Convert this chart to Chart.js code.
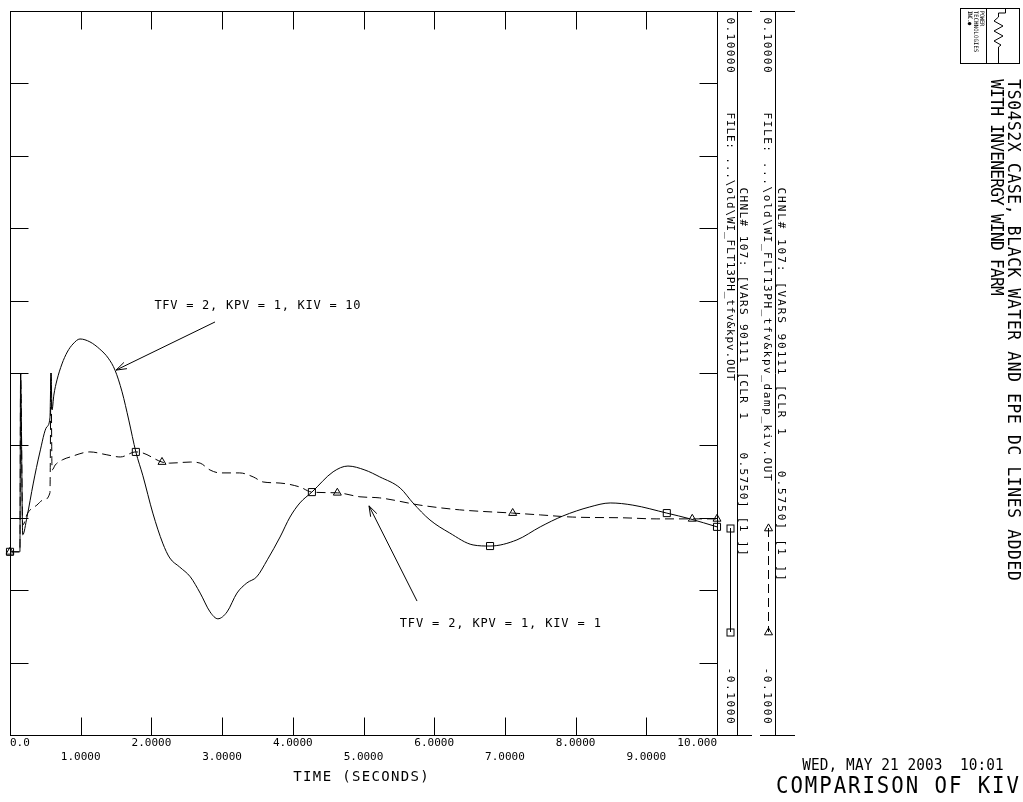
<!DOCTYPE html>
<html><head><meta charset="utf-8">
<script src="https://cdn.jsdelivr.net/npm/chart.js@4/dist/chart.umd.min.js"></script>
<style>html,body{margin:0;padding:0;background:#fff;overflow:hidden}</style>
</head><body>
<canvas id="c" width="1023" height="802" style="display:block;width:1023px;height:802px"></canvas>
<script>
// ---------- data ----------
const xTickValues = [0,1,2,3,4,5,6,7,8,9,10];
const xTickLabels = ['0.0','1.0000','2.0000','3.0000','4.0000','5.0000','6.0000','7.0000','8.0000','9.0000','10.000'];
const yTickValues = [-0.1,-0.08,-0.06,-0.04,-0.02,0,0.02,0.04,0.06,0.08,0.1];
const yRangeLabels = ['0.10000','-0.1000'];

// KIV = 10 (solid, squares) : ...\old\WI_FLT13PH_tfv&kpv.OUT
const solidT = [0,0.14,0.15,0.18,0.24,0.33,0.42,0.52,0.565,0.58,
  0.595,0.62,0.665,0.735,0.81,0.89,0.99,1.13,1.27,1.39,
  1.485,1.585,1.68,1.78,1.88,2.02,2.16,2.26,2.40,2.55,
  2.69,2.83,2.94,3.07,3.21,3.35,3.49,3.64,3.82,3.96,
  4.10,4.27,4.57,4.78,5.02,5.23,5.52,5.70,5.94,6.22,
  6.55,6.79,7.17,7.50,7.82,8.20,8.49,8.81,9.29,9.62,
  10.0];
const solidV = [-0.0494,-0.0494,0,-0.0447,-0.0398,-0.0304,-0.0221,-0.0149,-0.0124,0,
  -0.0102,-0.0061,-0.0019,0.0025,0.0058,0.0080,0.0094,0.0086,0.0066,0.0041,
  0.0008,-0.0052,-0.0130,-0.0218,-0.0284,-0.0387,-0.0470,-0.0511,-0.0536,-0.0563,
  -0.0608,-0.0660,-0.0679,-0.0660,-0.0608,-0.0580,-0.0563,-0.0516,-0.0453,-0.0398,
  -0.0359,-0.0329,-0.0273,-0.0257,-0.0268,-0.0287,-0.0318,-0.0359,-0.0406,-0.0442,
  -0.0475,-0.0478,-0.0461,-0.0425,-0.0395,-0.0370,-0.0359,-0.0365,-0.0387,-0.0403,
  -0.0425];
const solidMarkT = [0,1.78,4.27,6.79,9.29,10.0];

// KIV = 1 (dashed, triangles) : ...\old\WI_FLT13PH_tfv&kpv_damp_kiv.OUT
const dashT = [0,0.14,0.15,0.18,0.25,0.38,0.47,0.565,0.58,0.595,
  0.64,0.74,0.85,1.13,1.37,1.56,1.78,1.88,2.15,2.26,
  2.55,2.69,2.83,2.97,3.25,3.44,3.58,3.82,4.10,4.27,
  4.63,4.95,5.23,5.80,6.36,7.11,7.50,7.96,8.67,9.15,
  9.65,10.0];
const dashV = [-0.0494,-0.0494,0,-0.0420,-0.0387,-0.0365,-0.0351,-0.0331,0,-0.0268,
  -0.0254,-0.0240,-0.0232,-0.0218,-0.0226,-0.0232,-0.0218,-0.0221,-0.0246,-0.0249,
  -0.0246,-0.0249,-0.0268,-0.0276,-0.0276,-0.0287,-0.0301,-0.0304,-0.0315,-0.0329,
  -0.0331,-0.0342,-0.0345,-0.0365,-0.0378,-0.0387,-0.0392,-0.0398,-0.0400,-0.0403,
  -0.0403,-0.0403];
const dashMarkT = [0,2.15,4.63,7.11,9.65,10.0];

const seriesNames = ['TFV = 2, KPV = 1, KIV = 10','TFV = 2, KPV = 1, KIV = 1'];
const fileNames = ['FILE: ...\\old\\WI_FLT13PH_tfv&kpv.OUT','FILE: ...\\old\\WI_FLT13PH_tfv&kpv_damp_kiv.OUT'];
const channelLabel = 'CHNL# 107: [VARS 90111 [CLR_1    0.5750] [1 ]]';
const xTitle = 'TIME (SECONDS)';
const titleLines = ['TS04S2X CASE, BLACK WATER AND EPE DC LINES ADDED','WITH INVENERGY WIND FARM'];
const dateText = 'WED, MAY 21 2003  10:01';
const bottomTitle = 'COMPARISON OF KIV';

// ---------- helpers ----------
const FONT = '"DejaVu Sans Mono", "Liberation Mono", monospace';
// fixed-pitch plotter-like text: glyphs narrowed by sx, spread so visible text spans [a, b]
function mono(ctx, text, a, b, c, size, rot, sx) {
  sx = sx || 0.8;
  ctx.save();
  ctx.font = size + 'px ' + FONT;
  ctx.textBaseline = 'middle'; ctx.textAlign = 'center'; ctx.fillStyle = '#000';
  const gw = 0.6 * size * sx * 0.85;
  const n = text.length;
  const pitch = n > 1 ? (b - a - gw) / (n - 1) : 0;
  if (rot) { ctx.translate(c, a); ctx.rotate(Math.PI / 2); } else { ctx.translate(a, c); }
  for (let i = 0; i < n; i++) {
    const ch = text[i];
    if (ch === ' ') continue;
    ctx.save();
    ctx.translate(gw / 2 + i * pitch, 0);
    ctx.scale(sx, 1);
    ctx.fillText(ch, 0, 0);
    ctx.restore();
  }
  ctx.restore();
}
function seg(ctx, x1, y1, x2, y2) {
  ctx.beginPath(); ctx.moveTo(x1, y1); ctx.lineTo(x2, y2); ctx.stroke();
}
function square(ctx, x, y, s) { ctx.strokeRect(x - s / 2, y - s / 2, s, s); }
function triangle(ctx, x, y, s) {
  const h = s * 0.866;
  ctx.beginPath(); ctx.moveTo(x, y - h * 2 / 3); ctx.lineTo(x + s / 2, y + h / 3); ctx.lineTo(x - s / 2, y + h / 3); ctx.closePath(); ctx.stroke();
}
function arrow(ctx, x1, y1, x2, y2) {
  seg(ctx, x1, y1, x2, y2);
  const a = Math.atan2(y1 - y2, x1 - x2), L = 11, d = 0.32;
  ctx.beginPath();
  ctx.moveTo(x2 + L * Math.cos(a + d), y2 + L * Math.sin(a + d));
  ctx.lineTo(x2, y2);
  ctx.lineTo(x2 + L * Math.cos(a - d), y2 + L * Math.sin(a - d));
  ctx.stroke();
}

// annotations, in data units
const annotations = [
  {text: seriesNames[0], t0: 2.05, t1: 4.95, v: 0.0185, from: [2.90, 0.0141], to: [1.50, 0.0008]},
  {text: seriesNames[1], t0: 5.52, t1: 8.35, v: -0.0693, from: [5.757, -0.0630], to: [5.078, -0.0367]}
];

const isMark = (list) => (c) => (c.raw && list.includes(c.raw.x)) ? 1 : 0;

const decor = {
  id: 'decor',
  afterDraw(chart) {
    const ctx = chart.ctx, xs = chart.scales.x, ys = chart.scales.y, a = chart.chartArea;
    const L = Math.round(a.left) + 0.5, R = Math.round(a.right) + 0.5, T = Math.round(a.top) + 0.5, B = Math.round(a.bottom) + 0.5;
    ctx.save();
    ctx.strokeStyle = '#000'; ctx.lineWidth = 1; ctx.setLineDash([]);
    // frame
    ctx.strokeRect(L, T, R - L, B - T);
    // inward ticks
    xTickValues.slice(1, -1).forEach(v => {
      const px = Math.round(xs.getPixelForValue(v)) + 0.5;
      seg(ctx, px, B, px, B - 18); seg(ctx, px, T, px, T + 18);
    });
    yTickValues.slice(1, -1).forEach(v => {
      const py = Math.round(ys.getPixelForValue(v)) + 0.5;
      seg(ctx, L, py, L + 18, py); seg(ctx, R, py, R - 18, py);
    });
    // strips
    seg(ctx, R, T, 752, T); seg(ctx, R, B, 752, B); seg(ctx, 737.5, T, 737.5, B);
    seg(ctx, 760, T, 795, T); seg(ctx, 760, B, 795, B); seg(ctx, 775.5, T, 775.5, B);
    // strip text (rotated)
    const sx = [730, 767], cx = [743, 781];
    mono(ctx, yRangeLabels[0], 18, 72, sx[0], 11, true, 1.0);
    mono(ctx, yRangeLabels[0], 18, 72, sx[1], 11, true, 1.0);
    mono(ctx, yRangeLabels[1], 668, 723, sx[0], 11, true, 1.0);
    mono(ctx, yRangeLabels[1], 668, 723, sx[1], 11, true, 1.0);
    mono(ctx, fileNames[0], 113, 380, sx[0], 11, true, 1.0);
    mono(ctx, fileNames[1], 113, 480, sx[1], 11, true, 1.0);
    mono(ctx, channelLabel, 188, 555, cx[0], 11, true, 1.0);
    mono(ctx, channelLabel, 188, 580, cx[1], 11, true, 1.0);
    // legend samples
    seg(ctx, 730.5, 528, 730.5, 632);
    square(ctx, 730.5, 528.5, 7); square(ctx, 730.5, 632.5, 7);
    ctx.setLineDash([9, 5]); seg(ctx, 768.5, 528, 768.5, 632); ctx.setLineDash([]);
    triangle(ctx, 768.5, 528.5, 8); triangle(ctx, 768.5, 632.5, 8);
    // annotations
    annotations.forEach(an => {
      const x0 = xs.getPixelForValue(an.t0), x1 = xs.getPixelForValue(an.t1);
      mono(ctx, an.text, x0, x1, ys.getPixelForValue(an.v), 12, false, 1.0);
      arrow(ctx, xs.getPixelForValue(an.from[0]), ys.getPixelForValue(an.from[1]),
                 xs.getPixelForValue(an.to[0]), ys.getPixelForValue(an.to[1]));
    });
    // axis title
    mono(ctx, xTitle, 294, 428, 777, 14, false, 1.0);
    // title block
    mono(ctx, titleLines[0], 80, 580, 1012, 17, true, 0.95);
    mono(ctx, titleLines[1], 80, 295, 995, 17, true, 0.95);
    // logo
    ctx.strokeRect(960.5, 8.5, 59, 55);
    seg(ctx, 986.5, 8.5, 986.5, 63.5);
    mono(ctx, 'POWER', 11, 26, 982, 6, true, 0.9);
    mono(ctx, 'TECHNOLOGIES', 11, 52, 976, 6, true, 0.9);
    mono(ctx, 'INC.\u25CF', 11, 25, 970, 6, true, 0.9);
    ctx.beginPath();
    ctx.moveTo(1005.5, 8.5); ctx.lineTo(1005.5, 13); ctx.lineTo(998.5, 13);
    ctx.lineTo(998.5, 17); ctx.lineTo(994, 21); ctx.lineTo(1003, 26); ctx.lineTo(994, 31);
    ctx.lineTo(1003, 36); ctx.lineTo(994, 41); ctx.lineTo(1001, 45); ctx.lineTo(998.5, 47);
    ctx.lineTo(998.5, 63.5);
    ctx.stroke();
    // date and bottom title
    mono(ctx, dateText, 803, 1003, 766, 16, false, 0.9);
    mono(ctx, bottomTitle, 777, 1018, 787, 23, false, 0.9);
    ctx.restore();
  }
};

new Chart(document.getElementById('c'), {
  type: 'line',
  data: {
    datasets: [
      {
        label: seriesNames[0],
        data: solidT.map((t, i) => ({x: t, y: solidV[i]})),
        borderColor: '#000', borderWidth: 1, fill: false,
        cubicInterpolationMode: 'monotone',
        pointStyle: 'rect',
        pointRadius: c => isMark(solidMarkT)(c) ? 5 : 0,
        pointBorderColor: '#000', pointBackgroundColor: 'rgba(0,0,0,0)', pointBorderWidth: 1,
        clip: false
      },
      {
        label: seriesNames[1],
        data: dashT.map((t, i) => ({x: t, y: dashV[i]})),
        borderColor: '#000', borderWidth: 1, borderDash: [9, 5], fill: false,
        cubicInterpolationMode: 'monotone',
        pointStyle: 'triangle',
        pointRadius: c => isMark(dashMarkT)(c) ? 4.6 : 0,
        pointBorderColor: '#000', pointBackgroundColor: 'rgba(0,0,0,0)', pointBorderWidth: 1,
        clip: false
      }
    ]
  },
  options: {
    responsive: false, animation: false, devicePixelRatio: 1,
    layout: {padding: {left: 10, top: 11, right: 306, bottom: 0}},
    plugins: {legend: {display: false}, tooltip: {enabled: false}},
    scales: {
      x: {
        type: 'linear', min: 0, max: 10,
        afterFit: s => { s.height = 67; },
        grid: {display: false, drawTicks: false}, border: {display: false},
        afterBuildTicks: s => { s.ticks = xTickValues.map(v => ({value: v})); },
        ticks: {
          autoSkip: false, maxRotation: 0, minRotation: 0, align: 'inner', padding: 2, color: '#000',
          font: {family: FONT, size: 11},
          callback: (v, i) => i % 2 === 0 ? xTickLabels[i] : ['', xTickLabels[i]]
        }
      },
      y: {type: 'linear', min: -0.1, max: 0.1, display: false}
    }
  },
  plugins: [decor]
});
</script>
</body></html>
